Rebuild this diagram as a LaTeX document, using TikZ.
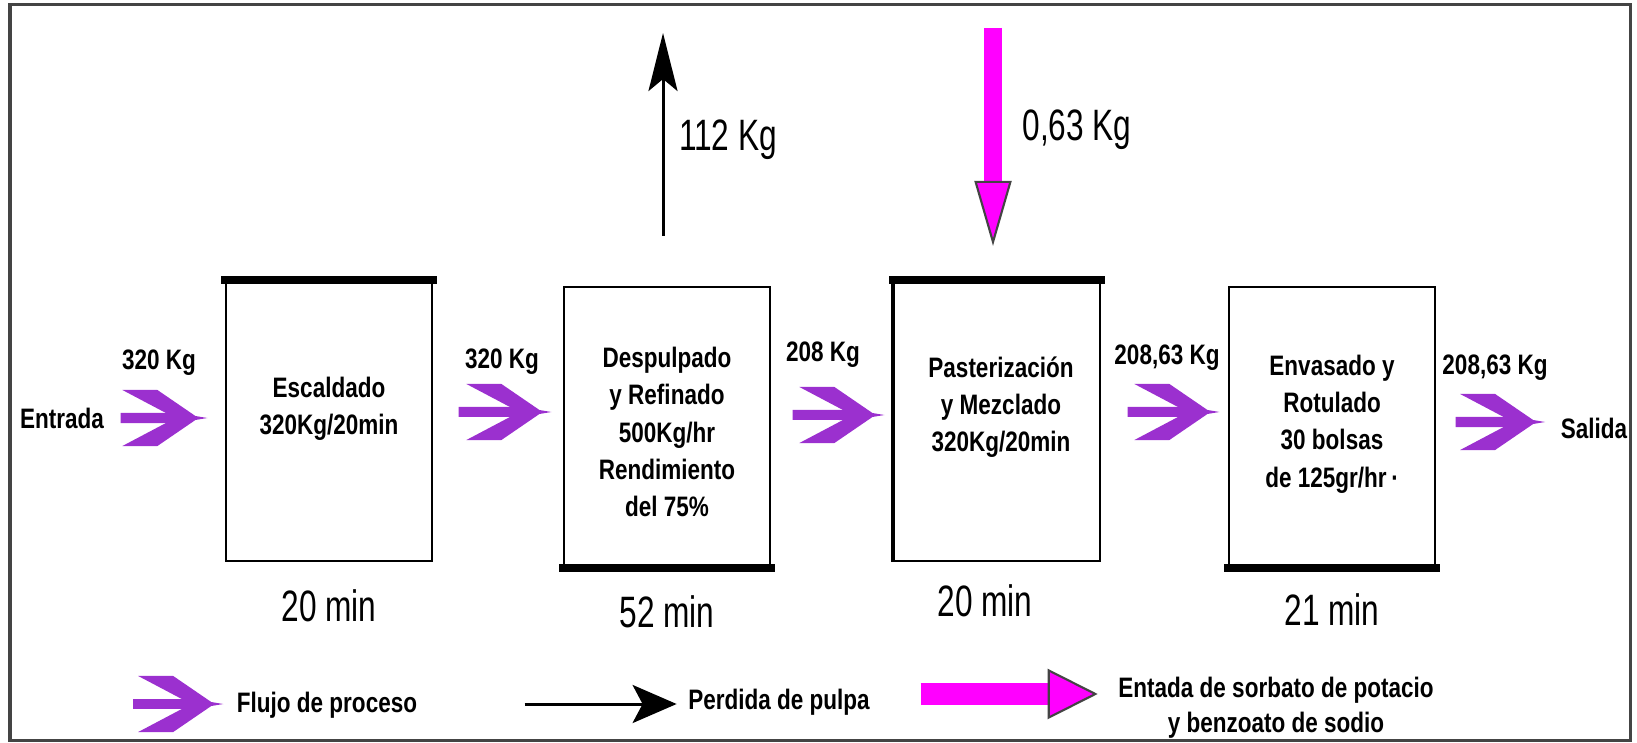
\documentclass[tikz,border=0pt]{standalone}
\usepackage{fontspec}
\setmainfont{Liberation Sans}
\newfontfamily\estrecha[FakeStretch=0.8]{Liberation Sans}
\newfontfamily\estrechafina[FakeStretch=0.72]{Liberation Sans}
\usepackage{tikz}
\usetikzlibrary{arrows.meta,positioning}
\definecolor{violeta}{HTML}{9B30CF}
\definecolor{rosa}{HTML}{FF00FF}
\definecolor{marcogris}{HTML}{444444}

% punta tipo chevron del flujo de proceso
\pgfdeclarearrow{
  name = Chevron,
  setup code = {
    \pgfarrowssettipend{0pt}
    \pgfarrowssetlineend{-0.3cm}
    \pgfarrowssetbackend{-0.85cm}
    \pgfarrowssetvisualbackend{-0.85cm}
    \pgfarrowshullpoint{0pt}{0pt}
    \pgfarrowsupperhullpoint{-0.85cm}{0.28cm}
  },
  drawing code = {
    \pgfpathmoveto{\pgfpointorigin}
    \pgfpathlineto{\pgfpoint{-0.12cm}{0.02cm}}
    \pgfpathlineto{\pgfpoint{-0.50cm}{0.28cm}}
    \pgfpathlineto{\pgfpoint{-0.85cm}{0.28cm}}
    \pgfpathlineto{\pgfpoint{-0.32cm}{0cm}}
    \pgfpathlineto{\pgfpoint{-0.85cm}{-0.28cm}}
    \pgfpathlineto{\pgfpoint{-0.50cm}{-0.28cm}}
    \pgfpathlineto{\pgfpoint{-0.12cm}{-0.02cm}}
    \pgfpathclose
    \pgfusepathqfill
  },
}

\begin{document}
\begin{tikzpicture}[
    x=0.01cm, y=-0.01cm,
    etapa/.style={draw, line width=0.02cm, minimum width=2.05cm, minimum height=2.8cm, inner sep=0pt},
    rotulo/.style={align=center, inner sep=0pt, font=\estrecha\bfseries\fontsize{8}{10.6}\selectfont},
    barra/.style={line width=0.08cm, line cap=rect},
    etiq/.style={inner sep=0pt, font=\estrecha\bfseries\fontsize{8}{10}\selectfont},
    tiempo/.style={inner sep=0pt, font=\estrechafina\fontsize{12.5}{14}\selectfont},
    flujo/.style={violeta, line width=0.1cm, -{Chevron}},
    perdida/.style={line width=0.03cm, -{Stealth[length=0.58cm, width=0.29cm, inset=0.12cm]}},
    aditivo/.style={rosa, line width=0.18cm, -{Triangle[length=0.65cm, width=0.37cm, fill=rosa, color=marcogris, line width=0.6pt]}}
]
  \useasboundingbox (0,0) rectangle (1637,743);
  \draw[marcogris, line width=0.03cm] (10,5) rectangle (1630,740);

  % etapas
  \node[etapa] (esc) at (329,421) {};
  \node[etapa] (desp) at (667,427) {};
  \node[etapa] (past) at (997,421) {};
  \node[etapa] (env) at (1332,427) {};
  \node[rotulo] (tesc) at ([yshift=0.12cm]esc.center) {Escaldado\\320Kg/20min};
  \node[rotulo] (tdesp) at ([yshift=-0.05cm]desp.center) {Despulpado\\y Refinado\\500Kg/hr\\Rendimiento\\del 75\%};
  \node[rotulo] (tpast) at ([xshift=0.04cm, yshift=0.14cm]past.center) {Pasterización\\y Mezclado\\320Kg/20min};
  \node[rotulo] (tenv) at ([yshift=0.03cm]env.center) {Envasado y\\Rotulado\\30 bolsas\\de 125gr/hr\,·};

  \draw[barra] (esc.north west) -- (esc.north east);
  \draw[barra] (desp.south west) -- (desp.south east);
  \draw[barra] (past.north west) -- (past.north east);
  \draw[line width=0.04cm] (past.north west) -- (past.south west);
  \draw[barra] (env.south west) -- (env.south east);

  \node[tiempo, below=0.27cm of esc] (t1) {20 min};
  \node[tiempo, below=0.27cm of desp] (t2) {52 min};
  \node[tiempo, below=0.22cm of past, xshift=-0.12cm] (t3) {20 min};
  \node[tiempo, below=0.25cm of env] (t4) {21 min};

  % flujo de proceso
  \node[etiq] (entrada) at (62,418) {Entrada};
  \node[etiq] (salida) at (1594,428) {Salida};
  \node[etiq] (k1) at (159,363) {320 Kg};
  \node[etiq] (k2) at (502,362) {320 Kg};
  \node[etiq] (k3) at (823,355) {208 Kg};
  \node[etiq] (k4) at (1167,358) {208,63 Kg};
  \node[etiq] (k5) at (1495,368) {208,63 Kg};

  \draw[flujo, shorten <=0.16cm, shorten >=0.18cm] (entrada.east) -- ([yshift=0.03cm]esc.west);
  \draw[flujo, shorten <=0.26cm, shorten >=0.12cm] ([yshift=0.09cm]esc.east) -- ([yshift=0.15cm]desp.west);
  \draw[flujo, shorten <=0.22cm, shorten >=0.09cm] ([yshift=0.12cm]desp.east) -- ([yshift=0.06cm]past.west);
  \draw[flujo, shorten <=0.27cm, shorten >=0.09cm] ([yshift=0.09cm]past.east) -- ([yshift=0.15cm]env.west);
  \draw[flujo, shorten <=0.2cm, shorten >=0.15cm] ([yshift=0.05cm]env.east) -- ([yshift=0.06cm]salida.west);

  % perdida y entrada de aditivos
  \coordinate (sale) at (663,33);
  \draw[perdida, shorten <=0.5cm] (sale |- desp.north) -- (sale);
  \node[tiempo] (m112) at (728,140) {112 Kg};
  \coordinate (entra) at (993,28);
  \draw[aditivo, shorten >=0.34cm] (entra) -- (entra |- past.north);
  \node[tiempo] (m063) at (1077,130) {0,63 Kg};

  % leyenda
  \node[etiq] (lflujo) at (327,705) {Flujo de proceso};
  \draw[flujo, shorten >=0.13cm] ([xshift=-1.03cm, yshift=0.01cm]lflujo.west) -- ([yshift=0.01cm]lflujo.west);
  \node[etiq] (lperd) at (779,702) {Perdida de pulpa};
  \draw[perdida, -{Stealth[length=0.44cm, width=0.38cm, inset=0.1cm]}, shorten >=0.11cm] ([xshift=-1.63cm, yshift=-0.02cm]lperd.west) -- ([yshift=-0.02cm]lperd.west);
  \node[etiq, align=center] (lsorb) at (1276,708) {Entada de sorbato de potacio\\y benzoato de sodio};
  \draw[aditivo, line width=0.22cm, -{Triangle[length=0.5cm, width=0.5cm, fill=rosa, color=marcogris, line width=0.6pt]}, shorten >=0.2cm] ([xshift=-1.97cm, yshift=0.14cm]lsorb.west) -- ([yshift=0.14cm]lsorb.west);
\end{tikzpicture}
\end{document}
